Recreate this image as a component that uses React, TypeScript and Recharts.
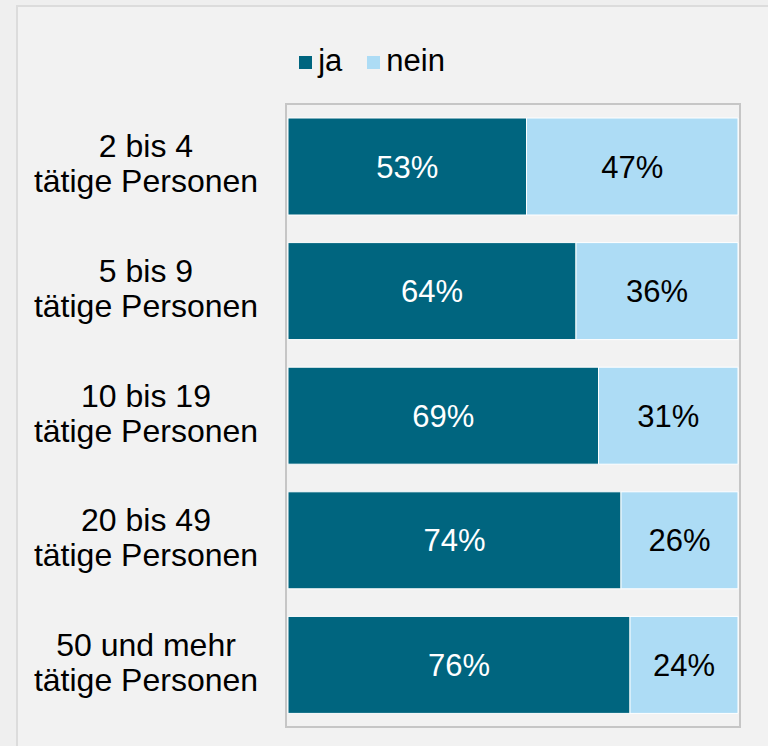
import React from "react";
import { BarChart, Bar, XAxis, YAxis, LabelList } from "recharts";

const categories = [
  "2 bis 4\ntätige Personen",
  "5 bis 9\ntätige Personen",
  "10 bis 19\ntätige Personen",
  "20 bis 49\ntätige Personen",
  "50 und mehr\ntätige Personen",
];
const jaValues = [53, 64, 69, 74, 76];
const neinValues = [47, 36, 31, 26, 24];
const seriesNames = ["ja", "nein"];
const colors = ["#00657f", "#addcf5"];

const data = categories.map((c, i) => ({ cat: c, ja: jaValues[i], nein: neinValues[i] }));

const FONT = "'Liberation Sans', Arial, sans-serif";
const FRAME = "#c6c6c6";

const CatTick = (props: any) => {
  const { x, y, payload } = props;
  const lines = String(payload.value).split("\n");
  return (
    <text x={x - 132} y={y} textAnchor="middle" fontFamily={FONT} fontSize={32} fill="#000">
      <tspan x={x - 132} y={y - 9}>{lines[0]}</tspan>
      <tspan x={x - 132} y={y + 26}>{lines[1]}</tspan>
    </text>
  );
};

export default function App() {
  return (
    <div
      style={{
        position: "fixed",
        left: 0,
        top: 0,
        width: 768,
        height: 746,
        background: "#efefef",
        overflow: "hidden",
        fontFamily: FONT,
      }}
    >
      <div
        style={{
          position: "absolute",
          left: 16,
          top: 5,
          width: 800,
          height: 800,
          border: "2px solid #dcdcdc",
          background: "#f2f2f2",
        }}
      />
      <div
        style={{
          position: "absolute",
          left: 0,
          top: 43,
          width: 744,
          display: "flex",
          justifyContent: "center",
          alignItems: "center",
          fontSize: 31,
          color: "#000",
        }}
      >
        {seriesNames.map((n, i) => (
          <div key={n} style={{ display: "flex", alignItems: "center", marginRight: i === 0 ? 25 : 0 }}>
            <div style={{ width: 13, height: 13, background: colors[i], marginRight: 6, marginTop: 2 }} />
            <span>{n}</span>
          </div>
        ))}
      </div>
      <div
        style={{
          position: "absolute",
          left: 285,
          top: 103,
          width: 456,
          height: 625,
          boxSizing: "border-box",
          border: `2px solid ${FRAME}`,
        }}
      />
      <div style={{ position: "absolute", left: 0, top: 0 }}>
        <BarChart
          width={768}
          height={746}
          data={data}
          layout="vertical"
          margin={{ top: 104, right: 28, bottom: 19, left: 0 }}
          barSize={97}
        >
          <XAxis
            type="number"
            domain={[0, 100]}
            padding={{ left: 2, right: 2 }}
            height={0}
            tick={false}
            tickLine={false}
            axisLine={false}
          />
          <YAxis
            type="category"
            dataKey="cat"
            width={286}
            tickLine={false}
            axisLine={false}
            tick={<CatTick />}
            interval={0}
          />
          <Bar
            dataKey="ja"
            name={seriesNames[0]}
            stackId="s"
            fill={colors[0]}
            stroke="#ffffff"
            strokeWidth={1}
            isAnimationActive={false}
          >
            <LabelList
              dataKey="ja"
              position="center"
              formatter={(v: any) => `${v}%`}
              fill="#ffffff"
              fontSize={31}
              fontFamily={FONT}
            />
          </Bar>
          <Bar
            dataKey="nein"
            name={seriesNames[1]}
            stackId="s"
            fill={colors[1]}
            stroke="#ffffff"
            strokeWidth={1}
            isAnimationActive={false}
          >
            <LabelList
              dataKey="nein"
              position="center"
              formatter={(v: any) => `${v}%`}
              fill="#000000"
              fontSize={31}
              fontFamily={FONT}
            />
          </Bar>
        </BarChart>
      </div>
    </div>
  );
}
